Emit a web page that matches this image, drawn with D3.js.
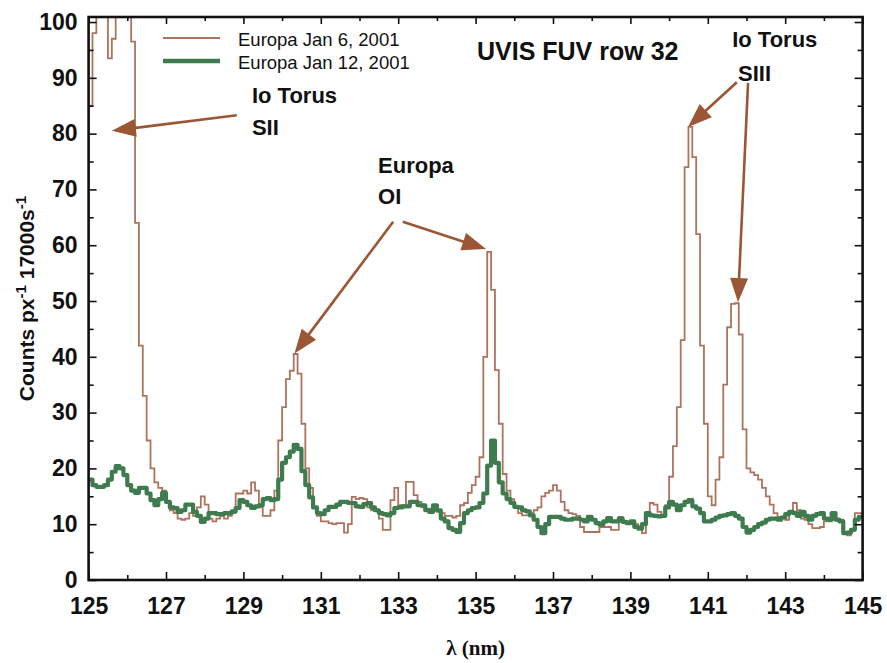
<!DOCTYPE html>
<html><head><meta charset="utf-8">
<script src="https://cdn.jsdelivr.net/npm/d3@7"></script>
<style>
body{margin:0;background:#fff}
svg{display:block}
text{font-family:"Liberation Sans",Arial,Helvetica,sans-serif;fill:#111}
</style>
</head><body>
<svg id="chart" width="887" height="663"></svg>
<script>
// ---------------- data ----------------
const binStartNm = 125;      // first bin (nm)
const binWidthNm = 0.1;      // spectral bin width (nm)

// Europa Jan 6, 2001 (counts per bin; values above 100 run off the plot)
const jan6 = [
 85, 98, 120, 120, 120, 93.5, 97, 120, 120, 120,
 120, 96.5, 64, 42, 33, 25, 20, 17.5, 16.5, 16,
 14, 12.5, 12, 11, 10.8, 11, 12, 11.5, 13, 15,
 13.5, 11, 10.5, 11, 11.5, 11, 11.5, 12, 15.5, 15.5,
 16, 15.5, 17.5, 16, 13, 11.5, 11.5, 12.5, 16, 25,
 31, 36, 37.5, 40.5, 37, 28, 20, 16.5, 13, 11.5,
 10.5, 10.5, 10.2, 10, 10.2, 10.2, 8.5, 10, 14.9, 14.5,
 14.7, 14.5, 13, 12.5, 12.5, 11, 9, 9, 14.3, 16.5,
 13.4, 13.4, 17.6, 17.6, 15.2, 14, 13, 12.8, 12.8, 12.5,
 12.2, 12, 11.5, 11.5, 11.2, 11.5, 13.4, 13.8, 15.6, 17,
 18.5, 22, 40, 58.8, 52, 37.6, 28, 19, 16, 14.5,
 13, 12, 11.6, 11.6, 12, 12.5, 13, 15, 15.6, 16,
 17, 16, 14, 12.5, 12, 11.8, 11.5, 9.5, 8.6, 8.6,
 8.6, 8.6, 9.5, 9.5, 9.5, 9, 9, 11.3, 10.5, 10,
 10, 10, 9.5, 8.4, 12, 13.8, 13.5, 12.2, 11.3, 13.4,
 18.5, 24, 31, 43, 74, 81.2, 75.8, 62, 42, 28,
 15, 13.4, 18, 22, 35, 45.3, 49.5, 49.6, 44, 27,
 20, 19.3, 18.8, 18, 16.5, 15, 13.5, 12, 11.3, 11.3,
 10.8, 12, 13.8, 12.5, 11, 10.8, 10, 9.3, 9.3, 9.5,
 10.5, 10.5, 11, 11, 10.8, 8.5, 8, 9, 12, 12
];

// Europa Jan 12, 2001
const jan12 = [
 18, 17, 16.7, 16.7, 17, 18, 19.4, 20.4, 20, 18.8,
 17, 16, 15.6, 16.5, 16.5, 15.5, 14.3, 13.4, 14.5, 15.6,
 14, 13, 12.9, 12.2, 12.5, 13.5, 13.5, 12.2, 11.5, 10.4,
 11, 12, 12, 11.8, 11.8, 12, 12, 12.3, 12.9, 14.3,
 14, 13.4, 12.9, 13.2, 13.4, 14.5, 14.7, 14.3, 14.5, 18,
 21, 22, 23, 24.2, 23.5, 19.5, 17, 14.8, 13, 12,
 11.8, 12.5, 13.1, 13.1, 13.5, 14, 14, 13.8, 13.8, 13.2,
 13.1, 13.6, 13.8, 13, 12.5, 12, 11.8, 11.6, 12, 12.9,
 13, 13.2, 13.2, 14, 14, 13.4, 13.4, 12.5, 12.2, 13.4,
 12.5, 11, 10.5, 9.3, 9, 8.6, 10.2, 12, 12.5, 12.9,
 13, 13.8, 15.5, 20.5, 25, 21, 17.5, 15.5, 14.5, 13.8,
 13.1, 13, 12.5, 12.3, 11.6, 10.8, 9.5, 8.4, 10, 11.3,
 11.3, 11.3, 11, 10.8, 10.8, 11, 11, 10.8, 10.5, 11.3,
 10.8, 10.2, 9.9, 10.5, 11.1, 10.5, 10.5, 11, 10.4, 10.2,
 10.5, 9.5, 9.2, 10, 12, 11.6, 11.5, 11.4, 11.5, 13,
 14, 13.5, 12.5, 13.4, 14, 14.3, 13.2, 12.8, 12, 10.5,
 10.5, 10.8, 11.2, 11.5, 11.6, 11.8, 12, 11.5, 11, 9.5,
 8.5, 9, 9.5, 10, 10.3, 10.8, 11, 11, 10.8, 11.2,
 11.8, 12.2, 12, 11.5, 12.2, 11.5, 10.8, 11.5, 11.8, 12,
 11, 10.8, 12, 10.8, 10.5, 8.4, 8.5, 9, 10.8, 11.3
];

const seriesNames = ["Europa Jan 6, 2001", "Europa Jan 12, 2001"];
const xTickValues = [125, 127, 129, 131, 133, 135, 137, 139, 141, 143, 145];
const xMinorTicks = [126, 128, 130, 132, 134, 136, 138, 140, 142, 144];
const yTickValues = [0, 10, 20, 30, 40, 50, 60, 70, 80, 90, 100];
const yMinorTicks = [5, 15, 25, 35, 45, 55, 65, 75, 85, 95];
const chartTitle = "UVIS FUV row 32";

// annotation labels: [text, wavelength, counts] (baseline-left anchor)
const annotationLabels = [
  ["Io Torus", 129.22, 85.4],
  ["SII", 129.22, 79.8],
  ["Europa", 132.48, 73.0],
  ["OI", 132.48, 67.3],
  ["Io Torus", 141.63, 95.5],
  ["SIII", 141.78, 89.5]
];
// arrows: [tail λ, tail counts, tip λ, tip counts]
const arrows = [
  [128.83, 83.3, 125.60, 80.5],
  [132.87, 64.2, 130.32, 40.6],
  [133.12, 64.2, 135.27, 59.3],
  [141.75, 89.2, 140.49, 81.2],
  [142.04, 89.1, 141.78, 49.8]
];

// ---------------- chart ----------------
const svg = d3.select("#chart");
const W = 887, H = 663;
const plot = {left: 88.6, right: 862.6, top: 17, bottom: 580};

const x = d3.scaleLinear().domain([125, 145]).range([plot.left, plot.right]);
const y = d3.scaleLinear().domain([0, 100.9]).range([plot.bottom, plot.top]);

svg.append("rect").attr("width", W).attr("height", H).attr("fill", "#fff");

svg.append("defs").append("clipPath").attr("id", "clip")
  .append("rect").attr("x", plot.left).attr("y", plot.top)
  .attr("width", plot.right - plot.left).attr("height", plot.bottom - plot.top);

function toPoints(vals) {
  const pts = vals.map((v, i) => [binStartNm + i * binWidthNm, v]);
  pts.push([binStartNm + vals.length * binWidthNm, vals[vals.length - 1]]);
  return pts;
}
const line = d3.line().x(d => x(d[0])).y(d => y(d[1])).curve(d3.curveStepAfter);

const g = svg.append("g").attr("clip-path", "url(#clip)");
g.append("path").datum(toPoints(jan6))
  .attr("d", line).attr("fill", "none")
  .attr("stroke", "#ad735c").attr("stroke-width", 1.8);
g.append("path").datum(toPoints(jan12))
  .attr("d", line).attr("fill", "none")
  .attr("stroke", "#3e7b4f").attr("stroke-width", 4.2)
  .attr("stroke-linejoin", "round").attr("stroke-linecap", "round");

// axes: inward ticks on all four sides
function styleAxis(sel) {
  sel.select(".domain").remove();
  sel.selectAll(".tick line").attr("stroke", "#111").attr("stroke-width", 1.6);
  sel.selectAll("text").style("font-size", "23px").style("font-weight", "bold")
    .attr("fill", "#111");
}
svg.append("g").attr("transform", `translate(0,${plot.bottom})`)
  .call(d3.axisBottom(x).tickValues(xTickValues).tickSize(-8).tickPadding(18).tickFormat(d3.format("d")))
  .call(styleAxis);
svg.append("g").attr("transform", `translate(0,${plot.bottom})`)
  .call(d3.axisBottom(x).tickValues(xMinorTicks).tickSize(-5).tickFormat(""))
  .call(styleAxis);
svg.append("g").attr("transform", `translate(0,${plot.top})`)
  .call(d3.axisTop(x).tickValues(xTickValues).tickSize(-7).tickFormat(""))
  .call(styleAxis);
svg.append("g").attr("transform", `translate(0,${plot.top})`)
  .call(d3.axisTop(x).tickValues(xMinorTicks).tickSize(-4).tickFormat(""))
  .call(styleAxis);
svg.append("g").attr("transform", `translate(${plot.left},0)`)
  .call(d3.axisLeft(y).tickValues(yTickValues).tickSize(-8).tickPadding(11).tickFormat(d3.format("d")))
  .call(styleAxis);
svg.append("g").attr("transform", `translate(${plot.left},0)`)
  .call(d3.axisLeft(y).tickValues(yMinorTicks).tickSize(-5).tickFormat(""))
  .call(styleAxis);
svg.append("g").attr("transform", `translate(${plot.right},0)`)
  .call(d3.axisRight(y).tickValues(yTickValues).tickSize(-8).tickFormat(""))
  .call(styleAxis);
svg.append("g").attr("transform", `translate(${plot.right},0)`)
  .call(d3.axisRight(y).tickValues(yMinorTicks).tickSize(-5).tickFormat(""))
  .call(styleAxis);

// frame
svg.append("rect").attr("x", plot.left).attr("y", plot.top)
  .attr("width", plot.right - plot.left).attr("height", plot.bottom - plot.top)
  .attr("fill", "none").attr("stroke", "#111").attr("stroke-width", 2.6);

// axis titles
svg.append("text").attr("x", (plot.left + plot.right) / 2).attr("y", 655)
  .attr("text-anchor", "middle")
  .style("font-family", "'Liberation Serif','Times New Roman',serif")
  .style("font-weight", "bold").style("font-size", "21px")
  .text("λ (nm)");

const yt = svg.append("text")
  .attr("transform", `translate(34,${(plot.top + plot.bottom) / 2})`+" rotate(-90)")
  .attr("text-anchor", "middle")
  .style("font-weight", "bold").style("font-size", "21px");
yt.append("tspan").text("Counts px");
yt.append("tspan").attr("dy", -8).style("font-size", "15px").text("-1");
yt.append("tspan").attr("dy", 8).text(" 17000s");
yt.append("tspan").attr("dy", -8).style("font-size", "15px").text("-1");

// legend
const legendColors = ["#ad735c", "#3e7b4f"];
const legendWidths = [2, 4.5];
seriesNames.forEach((name, i) => {
  const ly = 38 + i * 23;
  svg.append("line").attr("x1", 163).attr("x2", 220).attr("y1", ly).attr("y2", ly)
    .attr("stroke", legendColors[i]).attr("stroke-width", legendWidths[i]);
  svg.append("text").attr("x", 238).attr("y", ly + 7.5)
    .style("font-size", "18.5px").text(name);
});

// title
svg.append("text").attr("x", 477).attr("y", 60)
  .style("font-weight", "bold").style("font-size", "25px").text(chartTitle);

// annotations
const arrowColor = "#9b5636";
arrows.forEach(([tx, tyv, hx, hyv]) => {
  const x1 = x(tx), y1 = y(tyv), x2 = x(hx), y2 = y(hyv);
  const dx = x2 - x1, dy = y2 - y1, len = Math.hypot(dx, dy);
  const ux = dx / len, uy = dy / len;
  const L = 24, Wd = 9;
  const bx = x2 - ux * L, by = y2 - uy * L;
  svg.append("line").attr("x1", x1).attr("y1", y1).attr("x2", bx + ux * 2).attr("y2", by + uy * 2)
    .attr("stroke", arrowColor).attr("stroke-width", 2.6);
  svg.append("path")
    .attr("d", `M${x2},${y2}L${bx - uy * Wd},${by + ux * Wd}L${bx + uy * Wd},${by - ux * Wd}Z`)
    .attr("fill", arrowColor);
});
annotationLabels.forEach(([t, lx, ly]) => {
  svg.append("text").attr("x", x(lx)).attr("y", y(ly))
    .style("font-weight", "bold").style("font-size", "22px").text(t);
});
</script>
</body></html>
